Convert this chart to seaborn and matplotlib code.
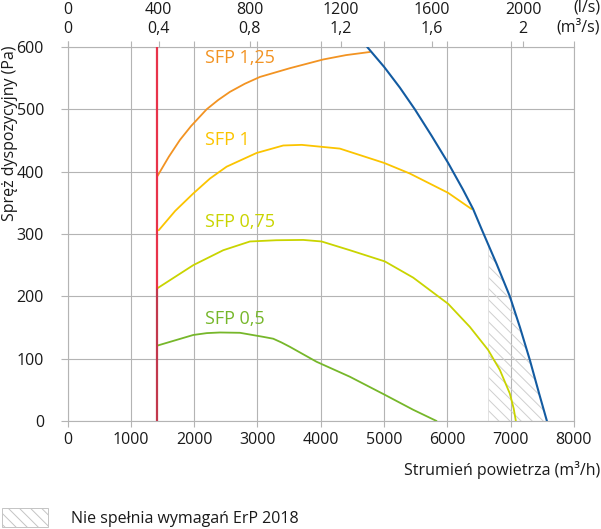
import numpy as np
import pandas as pd
import matplotlib
matplotlib.use("Agg")
import matplotlib.pyplot as plt
import seaborn as sns
from matplotlib.patches import Patch

# ---------------- data ----------------
x_ticks = [0, 1000, 2000, 3000, 4000, 5000, 6000, 7000, 8000]
y_ticks = [0, 100, 200, 300, 400, 500, 600]
ls_ticks = [0, 400, 800, 1200, 1600, 2000]
ls_labels = ["0", "400", "800", "1200", "1600", "2000"]
m3s_labels = ["0", "0,4", "0,8", "1,2", "1,6", "2"]

red_x = 1420
red_split = 213

sfp125_x = [1420, 1600, 1776, 1950, 2197, 2380, 2565, 2800, 3040, 3513, 4040, 4400, 4777]
sfp125_y = [393, 424, 451, 473, 500, 515, 528, 541, 552, 566, 580, 587, 592]

sfp1_x = [1440, 1700, 1986, 2250, 2513, 2987, 3408, 3700, 4303, 5003, 5409, 6014, 6384]
sfp1_y = [306, 337, 365, 389, 408, 430, 442, 443, 437, 414, 397, 366, 340]

sfp075_x = [1420, 1986, 2460, 2882, 3300, 3724, 4014, 4461, 5014, 5462, 6014, 6357, 6646, 6831, 6989, 7050, 7084]
sfp075_y = [213, 250, 274, 288, 290, 290.5, 288, 274, 256, 230, 188, 151, 114, 82, 44, 20, 0]

sfp05_x = [1420, 1986, 2200, 2408, 2724, 3092, 3250, 3380, 3513, 3935, 4461, 5014, 5462, 5831]
sfp05_y = [121, 138, 141, 142, 141.5, 135, 132, 126, 119, 95, 71, 42, 18, 0]

fan_x = [4735, 5003, 5250, 5488, 5750, 6014, 6250, 6409, 6542, 6780, 6989, 7150, 7305, 7452, 7575]
fan_y = [600, 568, 535, 500, 458, 414, 371, 340, 308, 252, 200, 150, 98, 44, 0]

erp_limit_x = 6650

series_labels = ["SFP 1,25", "SFP 1", "SFP 0,75", "SFP 0,5"]
label_pos_y = [582, 451, 319, 164]
label_x = 2170

# ---------------- style ----------------
sns.set_theme(style="white")
plt.rcParams["font.family"] = ["Open Sans", "DejaVu Sans"]
plt.rcParams["hatch.linewidth"] = 0.7

c_orange = "#f29322"
c_yellow = "#fbc400"
c_lime = "#c9d400"
c_green = "#76b72a"
c_blue = "#135ba1"
c_red_top = "#e8334a"
c_red_bot = "#c2384d"
c_grid = "#b4b4b4"
c_text = "#1a1a1a"
fs = 11.5

fig = plt.figure(figsize=(6.01, 5.29), dpi=100)
ax = fig.add_axes([67.6 / 601, 1 - 421 / 529, (573.8 - 67.6) / 601, (421 - 47) / 529])

# hatched region (does not meet ErP 2018)
fx = np.array(fan_x, dtype=float)
fy = np.array(fan_y, dtype=float)
top_y = np.interp(erp_limit_x, fx, fy)
mask = fx > erp_limit_x
poly_x = [erp_limit_x, erp_limit_x] + list(fx[mask])
poly_y = [0, top_y] + list(fy[mask])
ax.fill(poly_x, poly_y, facecolor="none", edgecolor="#cfcfcf", hatch="\\\\\\", linewidth=0, zorder=1)
ax.plot([erp_limit_x, erp_limit_x], [0, top_y], color="#dddddd", lw=0.6, zorder=1)

lw = 1.3
kw = dict(ax=ax, sort=False, estimator=None)
sns.lineplot(x=sfp125_x, y=sfp125_y, color=c_orange, lw=lw, zorder=3, **kw)
sns.lineplot(x=sfp1_x, y=sfp1_y, color=c_yellow, lw=lw, zorder=3, **kw)
sns.lineplot(x=sfp075_x, y=sfp075_y, color=c_lime, lw=lw, zorder=3, **kw)
sns.lineplot(x=sfp05_x, y=sfp05_y, color=c_green, lw=lw, zorder=3, **kw)
sns.lineplot(x=fan_x, y=fan_y, color=c_blue, lw=1.5, zorder=4, **kw)
sns.lineplot(x=[red_x, red_x], y=[0, red_split], color=c_red_bot, lw=1.6, zorder=4, **kw)
sns.lineplot(x=[red_x, red_x], y=[red_split, 600], color=c_red_top, lw=1.6, zorder=4, **kw)
for l in ax.lines:
    l.set_solid_joinstyle("round")

for lab, ly, col in zip(series_labels, label_pos_y, [c_orange, c_yellow, c_lime, c_green]):
    ax.text(label_x, ly, lab, color=col, fontsize=13, ha="left", va="center")

ax.set_xlim(0, 8000)
ax.set_ylim(0, 600)
ax.set_xticks(x_ticks)
ax.set_yticks(y_ticks)
ax.set_xticklabels([str(v) for v in x_ticks])
ax.set_yticklabels([str(v) for v in y_ticks])
ax.grid(True, color=c_grid, lw=0.8)
for s in ax.spines.values():
    s.set_color(c_grid)
    s.set_linewidth(0.8)
ax.tick_params(axis="x", which="both", bottom=True, top=True, direction="out", length=4,
               width=0.8, color=c_grid, pad=4, labelsize=fs, labelcolor=c_text)
ax.tick_params(axis="y", left=True, direction="out", length=5, width=0.8, color=c_grid,
               pad=12, labelsize=fs, labelcolor=c_text)

sec = ax.secondary_xaxis("top", functions=(lambda v: v / 3.6, lambda v: v * 3.6))
sec.set_xticks(ls_ticks)
sec.set_xticklabels([f"{a}\n{b}" for a, b in zip(ls_labels, m3s_labels)])
sec.tick_params(axis="x", direction="out", length=4, width=0.8, color=c_grid, pad=3,
                labelsize=fs, labelcolor=c_text)
for s in sec.spines.values():
    s.set_visible(False)
for t in sec.get_xticklabels():
    t.set_linespacing(1.3)

fig.text(600 / 601, 1 - 8 / 529, "(l/s)", ha="right", va="center", fontsize=fs, color=c_text)
fig.text(600 / 601, 1 - 27 / 529, "(m³/s)", ha="right", va="center", fontsize=fs, color=c_text)

fig.text(600 / 601, 1 - 470 / 529, "Strumień powietrza (m³/h)", ha="right", va="center",
         fontsize=fs, color=c_text)
fig.text(10 / 601, 1 - 133 / 529, "Spręż dyspozycyjny (Pa)", ha="center", va="center",
         rotation=90, fontsize=fs, color=c_text)

handle = Patch(facecolor="white", edgecolor="#c4c4c4", hatch="\\\\\\", linewidth=0.7)
fig.legend([handle], ["Nie spełnia wymagań ErP 2018"], loc="lower left",
           bbox_to_anchor=(2 / 601, 1 - 527 / 529), frameon=False, borderpad=0,
           borderaxespad=0, handlelength=2.9, handleheight=1.5, handletextpad=1.4,
           fontsize=fs, labelcolor=c_text)

fig.savefig("out.png", dpi=100)
